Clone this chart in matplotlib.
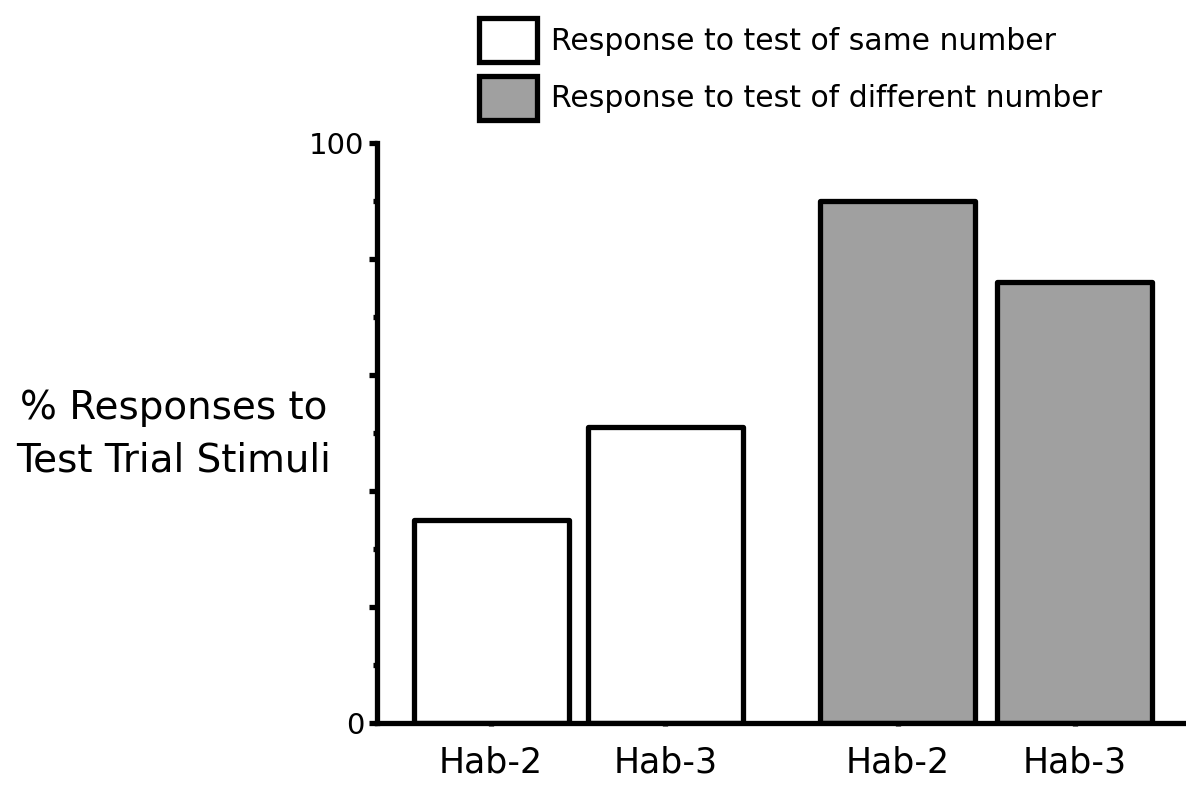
import matplotlib.pyplot as plt
from matplotlib.patches import Patch

# values (percent of responses)
groups = ['Hab-2', 'Hab-3']
same_number = [35, 51]
different_number = [90, 76]
legend_labels = ['Response to test of same number', 'Response to test of different number']

plt.rcParams['font.family'] = ['DejaVu Sans']

fig = plt.figure(figsize=(11.86, 7.90), dpi=100)
ax = fig.add_axes([377 / 1186, 1 - 722.5 / 790, 1 - 377 / 1186, 580 / 790])

lw = 3.8
pos_same = [0, 1]
pos_diff = [2.336, 3.35]
ax.bar(pos_same, same_number, width=0.89, color='white', edgecolor='black',
       linewidth=lw, joinstyle='round', zorder=2)
ax.bar(pos_diff, different_number, width=0.89, color='#a0a0a0', edgecolor='black',
       linewidth=lw, joinstyle='round', zorder=2)

ax.set_xlim(-0.655, 3.99)
ax.set_ylim(0, 100)

for s in ['top', 'right']:
    ax.spines[s].set_visible(False)
for s in ['left', 'bottom']:
    ax.spines[s].set_linewidth(lw)
    ax.spines[s].set_zorder(3)

ax.set_yticks([0, 20, 40, 60, 80, 100])
ax.set_yticklabels(['0', '', '', '', '', '100'])
ax.set_yticks([10, 30, 50, 70, 90], minor=True)
ax.tick_params(axis='y', which='major', length=6, width=lw, labelsize=21, pad=3)
ax.tick_params(axis='y', which='minor', length=3, width=lw)

ax.set_xticks(pos_same + pos_diff)
ax.set_xticklabels(groups + groups)
ax.tick_params(axis='x', which='major', length=2.5, width=lw, labelsize=25, pad=14)

fig.text(174 / 1186, 1 - 434 / 790, '% Responses to\nTest Trial Stimuli',
         ha='center', va='center', fontsize=28, linespacing=1.5)

handles = [Patch(facecolor='white', edgecolor='black', linewidth=lw, joinstyle='round'),
           Patch(facecolor='#a0a0a0', edgecolor='black', linewidth=lw, joinstyle='round')]
fig.legend(handles, legend_labels, loc='upper left',
           bbox_to_anchor=(479 / 1186, 1 - 18 / 790), frameon=False, fontsize=21.5,
           handlelength=1.95, handleheight=1.9, handletextpad=0.45,
           labelspacing=0.45, borderpad=0, borderaxespad=0)

fig.savefig('out.png', dpi=100)
